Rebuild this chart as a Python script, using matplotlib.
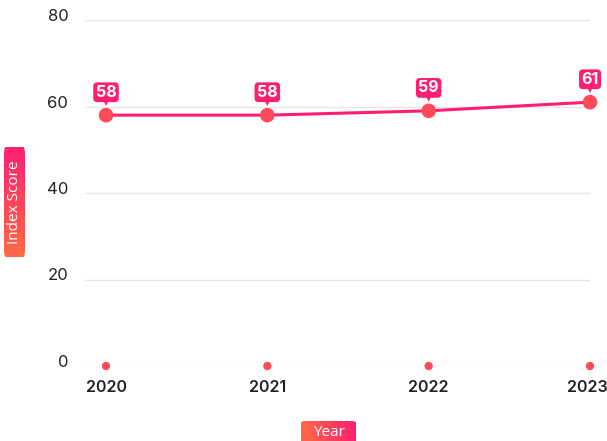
import numpy as np
import matplotlib
matplotlib.use("Agg")
import matplotlib.pyplot as plt
from matplotlib.patches import FancyBboxPatch
from matplotlib.transforms import offset_copy, ScaledTranslation

years = [2020, 2021, 2022, 2023]
scores = [58, 58, 59, 61]
y_ticks = [0, 20, 40, 60, 80]
x_title = "Year"
y_title = "Index Score"

PINK = "#ff1f72"
ORANGE = "#ff6a45"
MARK = "#ff4a5c"

plt.rcParams["font.family"] = ["Inter", "DejaVu Sans"]

W, H = 607, 441
fig = plt.figure(figsize=(W / 100, H / 100), dpi=100)
ax = fig.add_axes([85 / W, 1 - 366 / H, (590 - 85) / W, (366 - 20) / H])

ax.set_xlim(2020 - 21 / 161.3, 2023)
ax.set_ylim(0, 80)
ax.set_yticks(y_ticks)
ax.set_xticks(years)
ax.set_xticklabels([str(y) for y in years], fontsize=11.5, fontweight="semibold", color="#222222")
ax.set_yticklabels([str(v) for v in y_ticks], fontsize=12, color="#222222")
ax.tick_params(axis="y", length=0, pad=12)
ax.tick_params(axis="x", length=0, pad=10)
for s in ax.spines.values():
    s.set_visible(False)
ax.grid(axis="y", color="#e6e6e6", linewidth=1)
ax.set_axisbelow(True)

# value labels sit slightly above their grid lines
lift = ScaledTranslation(0, 5 / 100, fig.dpi_scale_trans)
for lab in ax.get_yticklabels():
    lab.set_transform(lab.get_transform() + lift)
# keep the last year label inside the canvas
last = ax.get_xticklabels()[-1]
last.set_transform(last.get_transform() + ScaledTranslation(-3 / 100, 0, fig.dpi_scale_trans))

# main series
ax.plot(years, scores, color=PINK, linewidth=2.2, zorder=3, clip_on=False)
ax.scatter(years, scores, s=110, color=MARK, edgecolors="none", zorder=4, clip_on=False)

# baseline dots at zero
ax.scatter(years, [0] * len(years), s=36, color=MARK, edgecolors="none", zorder=4, clip_on=False)

# value callouts
tri_tf = offset_copy(ax.transData, fig=fig, x=0, y=13, units="dots")
ax.scatter(years, scores, marker="v", s=30, color=PINK, edgecolors="none",
           transform=tri_tf, zorder=5, clip_on=False)
for x, v in zip(years, scores):
    ax.annotate(str(v), (x, v), xytext=(0, 16.5), textcoords="offset points",
                ha="center", va="center", fontsize=11.5, fontweight="bold", color="white",
                bbox=dict(boxstyle="round,pad=0.15,rounding_size=0.25", fc=PINK, ec="none"),
                zorder=6, annotation_clip=False)


def gradient_label(x0, y0, w, h, text, vertical):
    bax = fig.add_axes([x0 / W, 1 - (y0 + h) / H, w / W, h / H])
    bax.set_axis_off()
    t = np.linspace(0, 1, 256)
    c0 = np.array(matplotlib.colors.to_rgb(ORANGE))
    c1 = np.array(matplotlib.colors.to_rgb(PINK))
    grad = c0[None, :] * (1 - t[:, None]) + c1[None, :] * t[:, None]
    if vertical:
        img = grad[:, None, :]  # bottom orange, top pink
    else:
        img = grad[None, :, :]
    im = bax.imshow(img, extent=[0, 1, 0, 1], origin="lower", aspect="auto")
    bax.set_xlim(0, 1)
    bax.set_ylim(0, 1)
    clip = FancyBboxPatch((0, 0), 1, 1, boxstyle="round,pad=0,rounding_size=0.08",
                          transform=bax.transAxes, fc="none", ec="none")
    bax.add_patch(clip)
    im.set_clip_path(clip)
    bax.text(0.5, 0.5, text, ha="center", va="center", color="white", fontsize=11,
             family=["Open Sans", "DejaVu Sans"],
             rotation=90 if vertical else 0, transform=bax.transAxes)


gradient_label(4, 147, 21, 110, y_title, True)
gradient_label(301, 421, 55, 24, x_title, False)

fig.savefig("out.png", dpi=100)
